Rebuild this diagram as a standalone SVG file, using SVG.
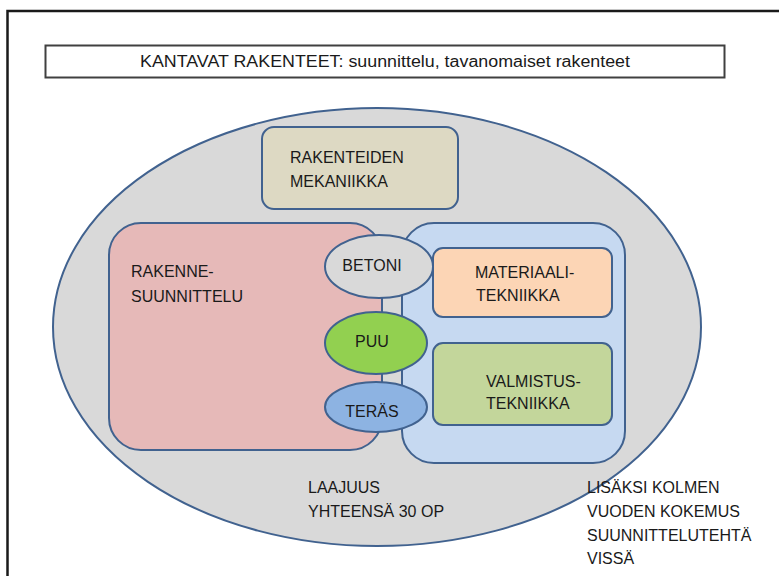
<svg xmlns="http://www.w3.org/2000/svg" width="779" height="576" viewBox="0 0 779 576">
<style>
text{font-family:"Liberation Sans",Arial,sans-serif;font-size:16px;fill:#1a1a1a}
.o{stroke:#41628f;stroke-width:2}
</style>
<rect width="779" height="576" fill="#ffffff"/>
<path d="M7.5,576 V11 H779" fill="none" stroke="#1a1a1a" stroke-width="2.5"/>
<g id="title">
<rect x="45.5" y="45.5" width="679" height="32" fill="#ffffff" stroke="#404040" stroke-width="2"/>
<text x="385" y="67" text-anchor="middle" font-size="16" textLength="490" lengthAdjust="spacingAndGlyphs">KANTAVAT RAKENTEET: suunnittelu, tavanomaiset rakenteet</text>
</g>
<g id="scope">
<ellipse class="o" cx="377" cy="327" rx="324" ry="219" fill="#d9d9d9"/>
</g>
<g id="connectors"></g>
<g id="mekaniikka">
<rect class="o" x="262" y="127" width="196" height="82" rx="12" fill="#ddd9c3"/>
<text x="290" y="163">RAKENTEIDEN</text>
<text x="290" y="187">MEKANIIKKA</text>
</g>
<g id="rakennesuunnittelu">
<rect class="o" x="109" y="223" width="273" height="227" rx="32" fill="#e6b9b8"/>
<text x="131" y="277">RAKENNE-</text>
<text x="131" y="302">SUUNNITTELU</text>
</g>
<g id="tekniikka">
<rect class="o" x="402" y="223" width="223" height="240" rx="32" fill="#c6d9f1"/>
</g>
<g id="materiaalitekniikka">
<rect class="o" x="433" y="248" width="179" height="69" rx="10" fill="#fcd5b5"/>
<text x="475" y="278">MATERIAALI-</text>
<text x="476" y="301">TEKNIIKKA</text>
</g>
<g id="valmistustekniikka">
<rect class="o" x="433" y="343" width="179" height="82" rx="10" fill="#c3d69b"/>
<text x="486" y="387">VALMISTUS-</text>
<text x="486" y="409">TEKNIIKKA</text>
</g>
<g id="betoni">
<ellipse class="o" cx="379" cy="266.5" rx="54" ry="31.5" fill="#d9d9d9"/>
<text x="372" y="271" text-anchor="middle">BETONI</text>
</g>
<g id="puu">
<ellipse class="o" cx="376" cy="343" rx="51" ry="31" fill="#92d050"/>
<text x="372" y="347" text-anchor="middle">PUU</text>
</g>
<g id="teras">
<ellipse class="o" cx="376" cy="407" rx="51" ry="25" fill="#8db3e2"/>
<text x="372" y="417" text-anchor="middle">TERÄS</text>
</g>
<g id="laajuus">
<text x="308" y="493">LAAJUUS</text>
<text x="308" y="517">YHTEENSÄ 30 OP</text>
</g>
<g id="kokemus">
<text x="587" y="493">LISÄKSI KOLMEN</text>
<text x="587" y="517">VUODEN KOKEMUS</text>
<text x="587" y="541">SUUNNITTELUTEHTÄ</text>
<text x="587" y="564">VISSÄ</text>
</g>
</svg>
